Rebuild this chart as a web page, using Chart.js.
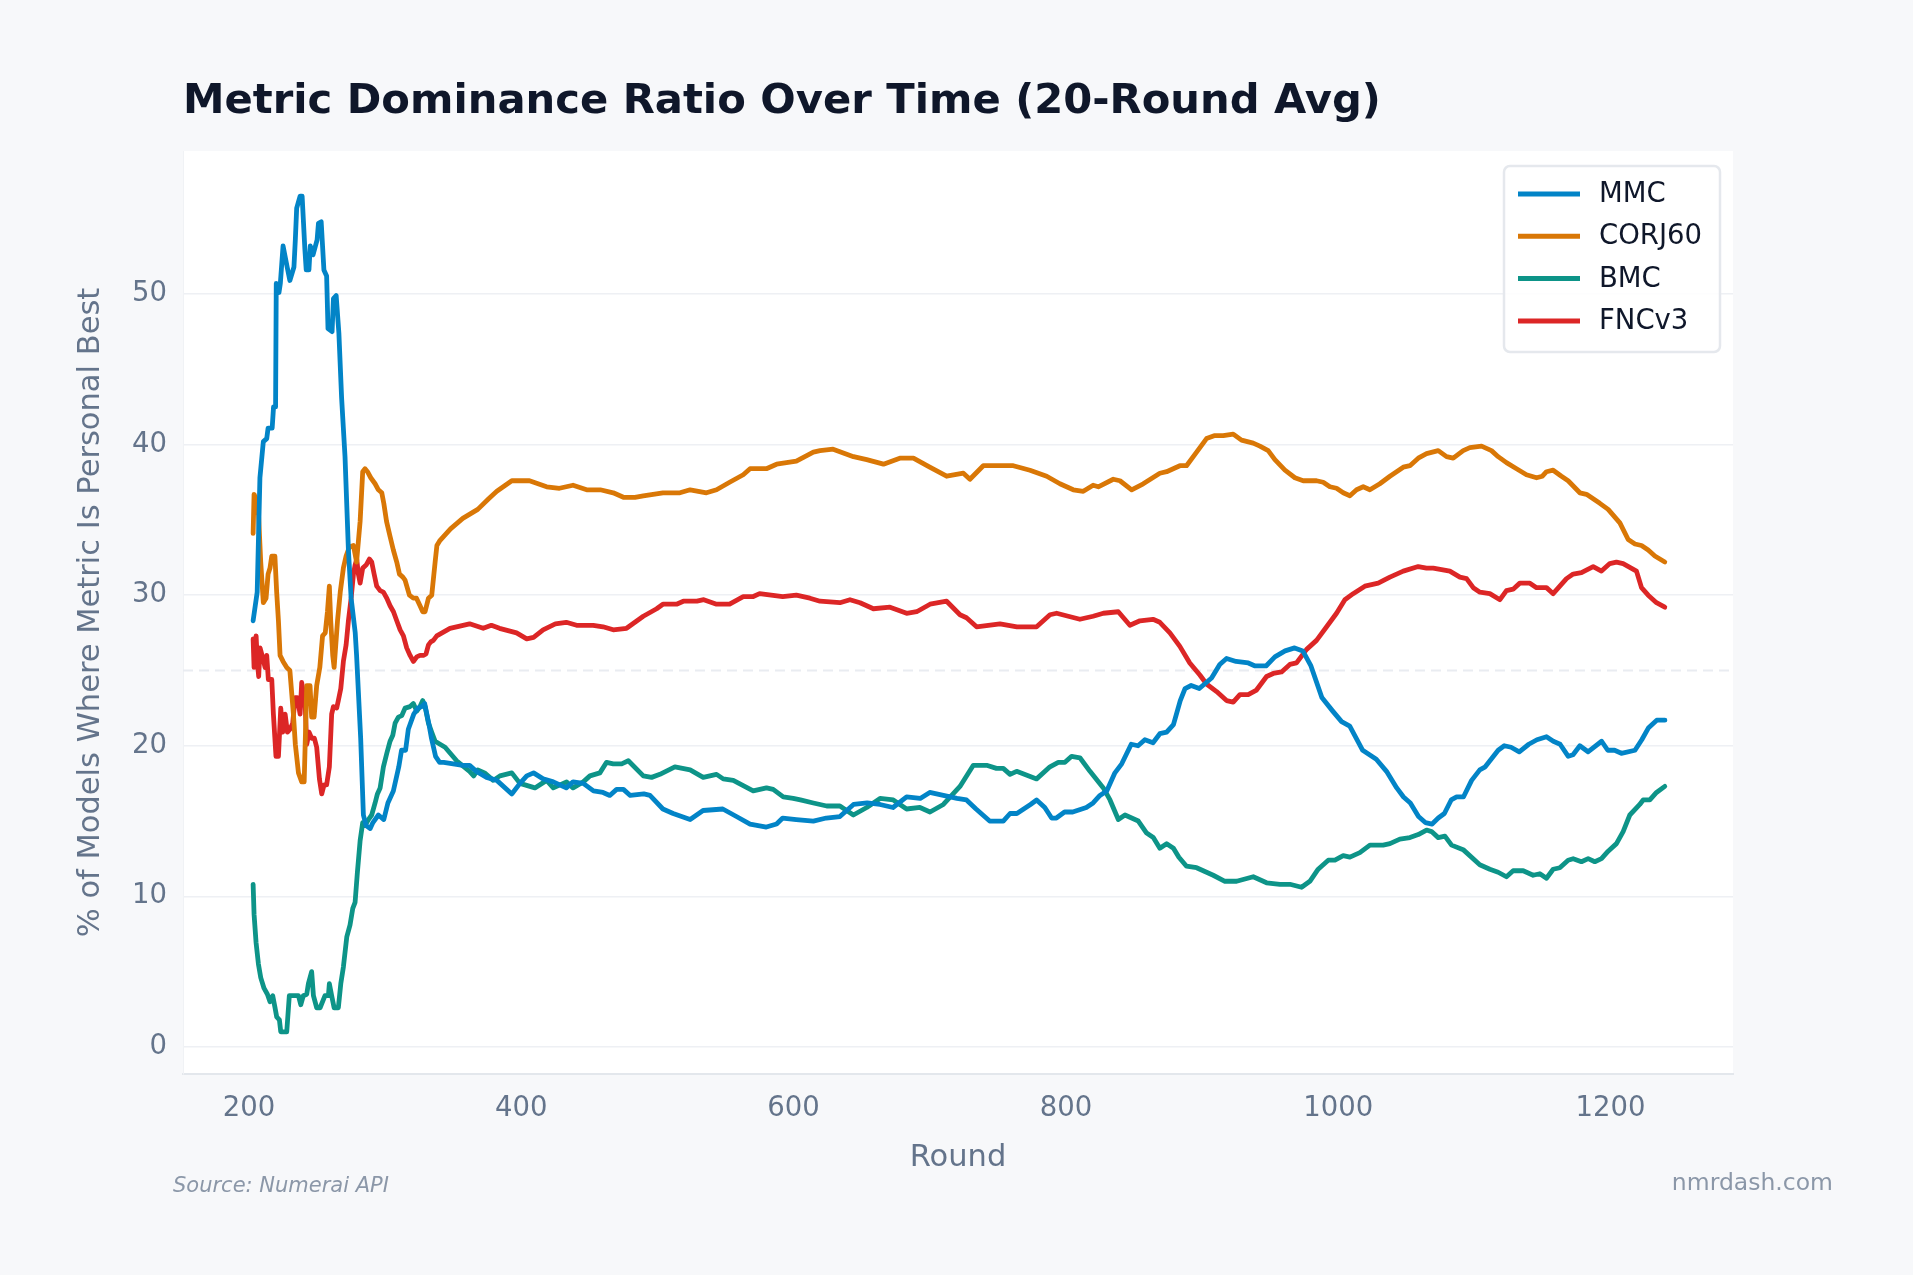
<!DOCTYPE html>
<html>
<head>
<meta charset="utf-8">
<title>Metric Dominance Ratio Over Time</title>
<script src="https://cdn.jsdelivr.net/npm/chart.js@4.4.1/dist/chart.umd.min.js"></script>
<style>
  html, body { margin: 0; padding: 0; background: #f7f8fa; }
  canvas { display: block; }
</style>
</head>
<body>
<canvas id="chart" width="1913" height="1275"></canvas>
<script>
// values (20-round rolling avg, %)
var mmcRounds = [203,206,208,210.5,213,214,217,218,219.5,220,
  222,223,225,228,230,233,234,235,237.5,239,
  241,242,244,245,247,250,251,253,255,257,
  258,261,262,264,266,268,270.5,273,275,278,
  279,282,284,286,289,291,295,299,302,306,
  310,312,315,317,321,324,327,329,332,334,
  337,340,343,350,357,362,367,374.5,382,393,
  399,404,409,416,423.5,433,438,445.5,453,460,
  465,470,475,480,490,494.5,504,511.5,524,533.5,
  548,558,568,580,587.5,592,602,614.5,624,634,
  644,654,663.5,673,683,693,700,710,720,727,
  734,744,754,759,764,774,778.5,784.5,789.5,793,
  799,805,815,820,825,830,836,841,848,853,
  858,864,869,874,879,884,887.5,892,898,907,
  913,918,925,934,939,947,953.5,961,968,974,
  980,988,996,1002.5,1008.5,1018,1028,1035.5,1043,1048,
  1053,1059,1064,1069,1073.5,1078,1083,1087,1092,1098,
  1104,1108,1117.5,1122,1127,1133,1140,1146,1153,1158,
  1163,1169,1172.5,1177.5,1183.5,1193.5,1198,1203,1208,1218,
  1223,1228,1234,1240];
var mmcValues = [28.3,30.2,37.8,40.2,40.4,41.1,41.1,42.5,42.5,50.7,
  50.1,50.7,53.2,51.8,50.9,51.8,53.6,55.7,56.5,56.5,
  53.0,51.6,51.6,53.2,52.6,53.6,54.7,54.8,51.6,51.2,
  47.7,47.5,49.7,49.9,47.4,43.1,39.2,33.0,29.8,27.5,
  26.0,20.5,15.4,14.7,14.5,14.9,15.4,15.1,16.2,17.0,
  18.6,19.7,19.7,21.1,22.1,22.5,22.6,22.8,21.5,20.5,
  19.3,18.9,18.9,18.8,18.7,18.7,18.3,17.9,17.7,16.8,
  17.5,18.0,18.2,17.8,17.6,17.2,17.6,17.5,17.0,16.9,
  16.7,17.1,17.1,16.7,16.8,16.7,15.8,15.5,15.1,15.7,
  15.8,15.3,14.8,14.6,14.8,15.2,15.1,15.0,15.2,15.3,
  16.1,16.2,16.1,15.9,16.6,16.5,16.9,16.7,16.5,16.4,
  15.8,15.0,15.0,15.5,15.5,16.1,16.4,15.9,15.2,15.2,
  15.6,15.6,15.9,16.2,16.7,17.0,18.2,18.8,20.1,20.0,
  20.4,20.2,20.8,20.9,21.4,23.0,23.8,24.0,23.8,24.5,
  25.4,25.8,25.6,25.5,25.3,25.3,25.9,26.3,26.5,26.3,
  25.3,23.2,22.3,21.6,21.3,19.7,19.1,18.3,17.2,16.6,
  16.2,15.3,14.9,14.8,15.2,15.5,16.4,16.6,16.6,17.7,
  18.4,18.6,19.7,20.0,19.9,19.6,20.1,20.4,20.6,20.3,
  20.1,19.3,19.4,20.0,19.6,20.3,19.7,19.7,19.5,19.7,
  20.4,21.2,21.7,21.7];

var corjRounds = [203,203.7,205.6,207,208.6,210.5,212.5,214,215.4,216.7,
  219,220.3,221.6,222.8,225,227.7,230,232.6,234,236.3,
  238.7,240.5,242.4,244.8,246,247.8,249.7,252,254,256,
  257.6,259,260,261.5,262.5,265,267,269.3,271.3,273.7,
  276.7,279,281.6,283.5,285.2,287,289.4,292.6,295,297.5,
  299,301,303.6,306,308.5,310.5,313,314.6,317.8,320.7,
  323,325.6,327.6,329.3,331.8,334.2,336.7,338,340,348,
  357,368,376,382,393,399,406,418.6,428,438,
  448,458,467.5,475,483.5,489.6,504,516.5,524,536,
  543.4,553,563,568,580,587.5,602,614.5,619.4,629,
  644,653.7,666,678,688,700,712.4,724.7,729.5,739.3,
  761.4,773.6,785.9,795.6,805.4,812.8,820,823.8,834.8,839.7,
  848.3,856.8,869,874,883.7,888.6,896,903.3,909.4,915.6,
  922.9,929,937.6,942.5,948.6,953.5,960.9,968.2,974.3,984.1,
  989,993.9,998.8,1003.7,1008.6,1013.5,1018.4,1023.3,1030.6,1038,
  1047.8,1052.7,1058.8,1064.9,1073.5,1079.6,1084.5,1091.8,1096.7,1105.3,
  1112.6,1117.5,1123.6,1131,1138.3,1145.7,1150,1153,1157.9,1164,
  1168.9,1177.5,1182.4,1192.2,1198.3,1206.9,1213,1218,1222.8,1227.7,
  1232.6,1239.9];
var corjValues = [34.1,36.7,36.3,35.3,32.2,29.5,29.8,31.4,31.8,32.6,
  32.6,30.2,28.3,26.0,25.6,25.2,25.0,22.1,20.1,18.2,
  17.6,17.6,24.0,24.0,21.9,21.9,24.0,25.2,27.3,27.5,
  28.9,30.6,28.3,26.0,25.2,28.3,30.2,31.8,32.6,33.2,
  33.3,32.2,34.9,38.2,38.4,38.2,37.8,37.4,37.0,36.8,
  36.1,34.9,33.9,33.0,32.2,31.4,31.2,31.0,30.0,29.8,
  29.8,29.3,28.9,28.9,29.8,30.0,32.2,33.3,33.6,34.4,
  35.1,35.7,36.4,36.9,37.6,37.6,37.6,37.2,37.1,37.3,
  37.0,37.0,36.8,36.5,36.5,36.6,36.8,36.8,37.0,36.8,
  37.0,37.5,38.0,38.4,38.4,38.7,38.9,39.5,39.6,39.7,
  39.2,39.0,38.7,39.1,39.1,38.5,37.9,38.1,37.7,38.6,
  38.6,38.3,37.9,37.4,37.0,36.9,37.3,37.2,37.7,37.6,
  37.0,37.4,38.1,38.2,38.6,38.6,39.5,40.4,40.6,40.6,
  40.7,40.3,40.1,39.9,39.6,39.0,38.3,37.8,37.6,37.6,
  37.5,37.2,37.1,36.8,36.6,37.0,37.2,37.0,37.4,37.9,
  38.5,38.6,39.1,39.4,39.6,39.2,39.1,39.6,39.8,39.9,
  39.6,39.2,38.8,38.4,38.0,37.8,37.9,38.2,38.3,37.9,
  37.6,36.8,36.7,36.1,35.7,34.8,33.7,33.4,33.3,33.0,
  32.6,32.2];

var bmcRounds = [203,203.7,205.2,206.9,208.6,211,213.5,215.4,217.4,219.1,
  220.3,222.3,223.3,227.7,229.6,232.6,236.3,238,239.9,242.4,
  243.6,246,247.3,249.7,252.2,255.8,258.3,259,260.7,262.5,
  265.6,267.4,269.3,271.8,274.2,276.2,277.9,279.6,281.6,283.5,
  285.2,287.7,290.1,292.6,294.3,296.3,298.7,301.2,303.6,305.6,
  307.3,309.7,312.2,314.6,318.3,320.7,323.2,325.6,327.6,329.3,
  331.8,334.2,336.7,340.3,344,352.5,362,365,368,373,
  379.4,384.3,393,399,410,418.6,423.5,433.3,438,445.5,
  450.4,457.7,462.6,467.5,473.7,478.6,489.6,495.7,501.8,512.8,
  524,533.6,543.4,548.3,555.7,570.3,580.1,585,592.4,599.7,
  605,614.5,624.3,634,643.9,653.7,663.5,673.2,683,692.8,
  700.2,710,722.2,732,741.8,749,754,759,763.8,778.5,
  788.3,794.4,799.3,804.2,810.3,817.7,827.5,832.4,838.5,843.4,
  853.2,859.3,864.2,869,874,879,883,888.6,896,908.2,
  916.8,925.4,937.6,947.4,957.2,964.5,973.1,979.2,985.3,992.7,
  997.6,1003.7,1008.6,1015.9,1023.3,1033,1038,1045.3,1052.7,1058.8,
  1064.9,1068.6,1073.5,1078.4,1083.3,1091.8,1104,1111.4,1117.5,1123.6,
  1128.5,1135.9,1143.2,1148.1,1153,1157.9,1162.8,1168.9,1172.6,1178.7,
  1183.6,1188.5,1193.4,1198.3,1204.4,1209.3,1214.2,1221.5,1224,1228.9,
  1233.8,1239.9];
var bmcValues = [10.8,8.8,6.9,5.5,4.6,3.9,3.5,3.0,3.4,2.6,
  2.0,1.8,1.0,1.0,3.4,3.4,3.4,2.8,3.4,3.5,
  4.2,5.0,3.4,2.6,2.6,3.4,3.4,4.2,3.4,2.6,
  2.6,4.2,5.3,7.3,8.1,9.2,9.6,11.6,13.7,14.9,
  14.7,15.1,15.4,16.2,16.8,17.2,18.6,19.5,20.3,20.7,
  21.5,21.9,22.0,22.5,22.6,22.8,22.3,22.6,23.0,22.6,
  21.5,20.9,20.3,20.1,19.9,19.0,18.3,18.0,18.4,18.2,
  17.7,18.0,18.2,17.5,17.2,17.7,17.2,17.6,17.2,17.6,
  18.0,18.2,18.9,18.8,18.8,19.0,18.0,17.9,18.1,18.6,
  18.4,17.9,18.1,17.8,17.7,17.0,17.2,17.1,16.6,16.5,
  16.4,16.2,16.0,16.0,15.4,15.9,16.5,16.4,15.8,15.9,
  15.6,16.1,17.3,18.7,18.7,18.5,18.5,18.1,18.3,17.8,
  18.6,18.9,18.9,19.3,19.2,18.3,17.2,16.4,15.1,15.4,
  15.0,14.2,13.9,13.2,13.5,13.2,12.6,12.0,11.9,11.4,
  11.0,11.0,11.3,10.9,10.8,10.8,10.6,11.0,11.8,12.4,
  12.4,12.7,12.6,12.9,13.4,13.4,13.5,13.8,13.9,14.1,
  14.4,14.3,13.9,14.0,13.4,13.1,12.1,11.8,11.6,11.3,
  11.7,11.7,11.4,11.5,11.2,11.8,11.9,12.4,12.5,12.3,
  12.5,12.3,12.5,13.0,13.5,14.3,15.4,16.1,16.4,16.4,
  16.9,17.3];

var fncRounds = [203,203.7,205.2,206.1,207.1,208.1,209.3,211.8,213,214.2,
  216.7,217.9,219.8,221.6,223.3,224.7,226.5,228.2,230.1,232.1,
  233.8,235.5,237.5,238.7,241.2,242.4,244.1,246,248,249.7,
  251.7,253.4,255.1,257,259,260.7,262,264.4,265.6,267.4,
  269.3,271.3,273,275,276.7,277.9,279.1,280.3,281.6,283.5,
  286,288.4,290.1,291.9,293.8,296.3,298.7,301.2,303.6,306.1,
  308.5,311,313.4,315.8,318.3,320.7,323.2,325.6,328,330,
  331.8,333.5,335.4,337.9,347.6,362,372,378,384,396.5,
  404,409,416,425,433,440.6,452.8,460,467.5,477.3,
  489.6,499.4,504,514,519,529,534,543.4,553,563,
  570,575,592,602,612,619.4,634,641.4,648.8,658.6,
  670.8,683,690.4,700.2,712.4,722.2,727,734.4,751.6,764,
  778.5,788.3,793.2,810.3,820,827.5,838.5,847,854.4,864,
  869,876.4,883.7,891,898.4,903.3,910.7,918,922.9,927.8,
  933.9,940,947.4,952.3,958.4,964.5,969.4,976.8,984.1,991.5,
  998.8,1004.9,1011,1019.6,1029.4,1038,1047.8,1058.8,1064.9,1069.8,
  1082,1089.4,1094.3,1099.2,1104.1,1111.4,1118.8,1123.6,1128.5,1133.4,
  1140.8,1145.7,1153,1157.9,1167.7,1172.6,1178.7,1187.3,1193.4,1199.5,
  1204.4,1209.3,1219.1,1222.8,1227.7,1233.8,1239.9];
var fncValues = [27.1,25.2,27.3,25.6,24.6,26.5,26.1,25.2,26.0,24.4,
  24.4,22.1,19.3,19.3,22.5,20.9,22.1,20.9,21.1,21.5,
  23.2,23.2,22.1,24.2,22.8,20.1,20.9,20.5,20.5,19.9,
  17.8,16.8,17.4,17.4,18.6,22.1,22.6,22.5,23.0,23.8,
  25.6,26.7,28.3,29.8,31.4,32.0,32.4,31.4,30.8,31.8,
  32.0,32.4,32.2,31.4,30.6,30.3,30.2,29.8,29.3,28.9,
  28.3,27.7,27.3,26.5,26.0,25.6,25.9,26.0,26.0,26.1,
  26.7,26.9,27.0,27.3,27.8,28.1,27.8,28.0,27.8,27.5,
  27.1,27.2,27.7,28.1,28.2,28.0,28.0,27.9,27.7,27.8,
  28.6,29.1,29.4,29.4,29.6,29.6,29.7,29.4,29.4,29.9,
  29.9,30.1,29.9,30.0,29.8,29.6,29.5,29.7,29.5,29.1,
  29.2,28.8,28.9,29.4,29.6,28.7,28.5,27.9,28.1,27.9,
  27.9,28.7,28.8,28.4,28.6,28.8,28.9,28.0,28.3,28.4,
  28.2,27.5,26.6,25.5,24.7,24.1,23.6,23.0,22.9,23.4,
  23.4,23.7,24.6,24.8,24.9,25.4,25.5,26.4,27.0,27.9,
  28.8,29.7,30.1,30.6,30.8,31.2,31.6,31.9,31.8,31.8,
  31.6,31.2,31.1,30.5,30.2,30.1,29.7,30.3,30.4,30.8,
  30.8,30.5,30.5,30.1,31.1,31.4,31.5,31.9,31.6,32.1,
  32.2,32.1,31.6,30.5,30.0,29.5,29.2];

var seriesNames = ['MMC', 'CORJ60', 'BMC', 'FNCv3'];
var seriesColors = ['#0284c7', '#d97706', '#0d9488', '#dc2626'];
var xTicks = [200, 400, 600, 800, 1000, 1200];
var yTicks = [0, 10, 20, 30, 40, 50];
var refLine = 25;

var FONT = '"DejaVu Sans", "Noto Sans", sans-serif';

function toPoints(xs, ys) {
  return xs.map(function(x, i) { return { x: x, y: ys[i] }; });
}

var allSeries = [
  toPoints(mmcRounds, mmcValues),
  toPoints(corjRounds, corjValues),
  toPoints(bmcRounds, bmcValues),
  toPoints(fncRounds, fncValues)
];

// background, 25% reference line, title, footer texts and legend
var decorPlugin = {
  id: 'decor',
  beforeDraw: function(chart) {
    var ctx = chart.ctx, a = chart.chartArea;
    ctx.save();
    ctx.fillStyle = '#f7f8fa';
    ctx.fillRect(0, 0, chart.width, chart.height);
    ctx.fillStyle = '#ffffff';
    ctx.fillRect(a.left, a.top, a.right - a.left, a.bottom - a.top);
    ctx.restore();
  },
  beforeDatasetsDraw: function(chart) {
    var ctx = chart.ctx, a = chart.chartArea;
    var y = chart.scales.y.getPixelForValue(refLine);
    ctx.save();
    ctx.strokeStyle = '#e9ecf1';
    ctx.lineWidth = 2;
    ctx.setLineDash([10, 6]);
    ctx.beginPath();
    ctx.moveTo(a.left, y);
    ctx.lineTo(a.right, y);
    ctx.stroke();
    ctx.restore();
  },
  afterDraw: function(chart) {
    var ctx = chart.ctx;
    ctx.save();
    ctx.fillStyle = '#0f172a';
    ctx.font = 'bold 41.7px ' + FONT;
    ctx.textBaseline = 'alphabetic';
    ctx.textAlign = 'left';
    ctx.fillText('Metric Dominance Ratio Over Time (20-Round Avg)', 183, 113);

    ctx.fillStyle = '#8b97a8';
    ctx.font = 'italic 21px ' + FONT;
    ctx.fillText('Source: Numerai API', 173, 1192);
    ctx.font = '23.5px ' + FONT;
    ctx.textAlign = 'right';
    ctx.fillText('nmrdash.com', 1833, 1190);

    // legend box
    var bx = 1504, by = 166, bw = 216, bh = 186;
    ctx.beginPath();
    ctx.roundRect(bx, by, bw, bh, 6);
    ctx.fillStyle = 'rgba(255,255,255,0.85)';
    ctx.fill();
    ctx.strokeStyle = '#e5e8ed';
    ctx.lineWidth = 2.5;
    ctx.stroke();
    ctx.textAlign = 'left';
    ctx.textBaseline = 'middle';
    ctx.font = '27.5px ' + FONT;
    chart.data.datasets.forEach(function(ds, i) {
      var ry = 194 + i * 42.3;
      ctx.strokeStyle = ds.borderColor;
      ctx.lineWidth = 5;
      ctx.beginPath();
      ctx.moveTo(1518, ry);
      ctx.lineTo(1580, ry);
      ctx.stroke();
      ctx.fillStyle = '#0f172a';
      ctx.fillText(ds.label, 1599, ry + 1);
    });
    ctx.restore();
  }
};

var ctx = document.getElementById('chart').getContext('2d');
new Chart(ctx, {
  type: 'line',
  data: {
    datasets: allSeries.map(function(pts, i) {
      return {
        label: seriesNames[i],
        data: pts,
        borderColor: seriesColors[i],
        backgroundColor: seriesColors[i],
        borderWidth: 4.8,
        pointRadius: 0,
        tension: 0,
        fill: false,
        borderJoinStyle: 'round',
        borderCapStyle: 'round'
      };
    })
  },
  options: {
    responsive: false,
    animation: false,
    devicePixelRatio: 1,
    layout: { padding: { left: 0, top: 151, right: 180, bottom: 0 } },
    plugins: {
      legend: { display: false },
      title: { display: false },
      tooltip: { enabled: false }
    },
    scales: {
      x: {
        type: 'linear',
        min: 151.5,
        max: 1290,
        afterBuildTicks: function(scale) {
          scale.ticks = xTicks.map(function(v) { return { value: v }; });
        },
        afterFit: function(scale) { scale.height = 201; },
        grid: { display: false, drawTicks: false },
        border: { display: true, color: '#e3e7ec', width: 2 },
        ticks: {
          padding: 18,
          color: '#64748b',
          font: { family: FONT, size: 27.5 },
          maxRotation: 0,
          callback: function(v) { return String(v); }
        },
        title: {
          display: true,
          text: 'Round',
          color: '#64748b',
          font: { family: FONT, size: 30.5 },
          padding: { top: 0, bottom: 99 }
        }
      },
      y: {
        type: 'linear',
        min: -1.8,
        max: 59.5,
        afterBuildTicks: function(scale) {
          scale.ticks = yTicks.map(function(v) { return { value: v }; });
        },
        afterFit: function(scale) { scale.width = 183; },
        grid: { color: '#eef0f4', lineWidth: 1.5, drawTicks: false },
        border: { display: true, color: '#f0f2f5', width: 1 },
        ticks: {
          padding: 16,
          color: '#64748b',
          font: { family: FONT, size: 27.5 },
          callback: function(v) { return String(v); }
        },
        title: {
          display: true,
          text: '% of Models Where Metric Is Personal Best',
          color: '#64748b',
          font: { family: FONT, size: 30.5 },
          padding: { top: 73, bottom: 0 }
        }
      }
    }
  },
  plugins: [decorPlugin]
});
</script>
</body>
</html>
